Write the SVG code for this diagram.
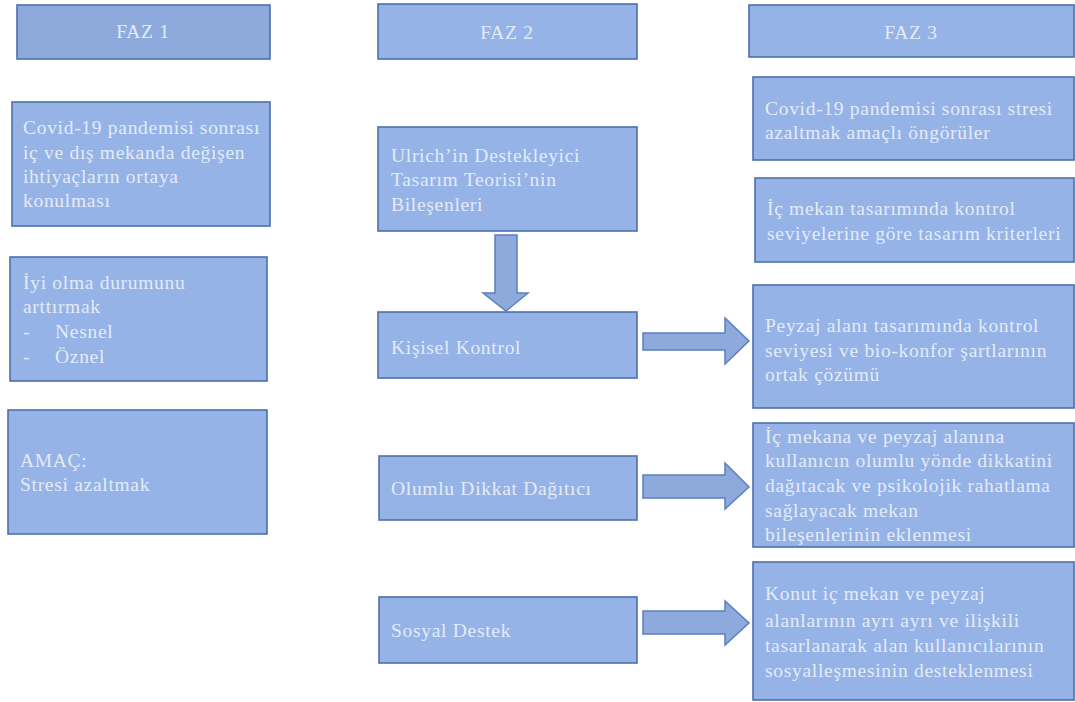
<svg xmlns="http://www.w3.org/2000/svg" width="1075" height="702" viewBox="0 0 1075 702">
<style>
.box{fill:#95b3e7;stroke:#4c70ad;stroke-width:1.6}
.hdr{fill:#8eaadc;stroke:#4c70ad;stroke-width:1.6}
.t{font-family:"Liberation Serif","Times New Roman",serif;font-size:19.5px;letter-spacing:0.7px;fill:#e4ebf8}
.c{text-anchor:middle}
.arr{fill:#8eaadc;stroke:#5b7fbf;stroke-width:1.5}
</style>
<rect width="1075" height="702" fill="#ffffff"/>
<g id="faz1"><rect class="hdr" x="17" y="5" width="253" height="54"/><text class="t c" x="143" y="38">FAZ 1</text></g>
<g id="faz2"><rect class="box" x="378" y="4" width="259" height="55"/><text class="t c" x="507" y="39">FAZ 2</text></g>
<g id="faz3"><rect class="box" x="749" y="5" width="325" height="52"/><text class="t c" x="911" y="39">FAZ 3</text></g>

<g id="l1"><rect class="box" x="12" y="102" width="258" height="124"/>
<text class="t" x="23" y="134">Covid-19 pandemisi sonrası</text>
<text class="t" x="23" y="159">iç ve dış mekanda değişen</text>
<text class="t" x="23" y="183">ihtiyaçların ortaya</text>
<text class="t" x="23" y="207">konulması</text></g>
<g id="l2"><rect class="box" x="10" y="257" width="257" height="124"/>
<text class="t" x="23" y="289">İyi olma durumunu</text>
<text class="t" x="23" y="313">arttırmak</text>
<text class="t" x="23" y="338">-</text><text class="t" x="55" y="338">Nesnel</text>
<text class="t" x="23" y="363">-</text><text class="t" x="55" y="363">Öznel</text></g>
<g id="l3"><rect class="box" x="8" y="410" width="259" height="124"/>
<text class="t" x="20" y="467">AMAÇ:</text>
<text class="t" x="20" y="491">Stresi azaltmak</text></g>

<g id="m1"><rect class="box" x="378" y="127" width="259" height="104"/>
<text class="t" x="391" y="162">Ulrich’in Destekleyici</text>
<text class="t" x="391" y="186">Tasarım Teorisi’nin</text>
<text class="t" x="391" y="211">Bileşenleri</text></g>
<g id="m2"><rect class="box" x="378" y="312" width="259" height="66"/>
<text class="t" x="391" y="354">Kişisel Kontrol</text></g>
<g id="m3"><rect class="box" x="379" y="456" width="258" height="64"/>
<text class="t" x="391" y="495">Olumlu Dikkat Dağıtıcı</text></g>
<g id="m4"><rect class="box" x="379" y="597" width="258" height="66"/>
<text class="t" x="391" y="637">Sosyal Destek</text></g>

<g id="r1"><rect class="box" x="753" y="77" width="321" height="83"/>
<text class="t" x="765" y="115">Covid-19 pandemisi sonrası stresi</text>
<text class="t" x="765" y="139">azaltmak amaçlı öngörüler</text></g>
<g id="r2"><rect class="box" x="755" y="178" width="319" height="84"/>
<text class="t" x="767" y="215">İç mekan tasarımında kontrol</text>
<text class="t" x="767" y="240">seviyelerine göre tasarım kriterleri</text></g>
<g id="r3"><rect class="box" x="753" y="285" width="321" height="123"/>
<text class="t" x="765" y="332">Peyzaj alanı tasarımında kontrol</text>
<text class="t" x="765" y="357">seviyesi ve bio-konfor şartlarının</text>
<text class="t" x="765" y="381">ortak çözümü</text></g>
<g id="r4"><rect class="box" x="753" y="423" width="321" height="124"/>
<text class="t" x="765" y="443">İç mekana ve peyzaj alanına</text>
<text class="t" x="765" y="467">kullanıcın olumlu yönde dikkatini</text>
<text class="t" x="765" y="492">dağıtacak ve psikolojik rahatlama</text>
<text class="t" x="765" y="517">sağlayacak mekan</text>
<text class="t" x="765" y="541">bileşenlerinin eklenmesi</text></g>
<g id="r5"><rect class="box" x="753" y="562" width="321" height="138"/>
<text class="t" x="765" y="600">Konut iç mekan ve peyzaj</text>
<text class="t" x="765" y="627">alanlarının ayrı ayrı ve ilişkili</text>
<text class="t" x="765" y="652">tasarlanarak alan kullanıcılarının</text>
<text class="t" x="765" y="677">sosyalleşmesinin desteklenmesi</text></g>

<g id="connectors">
<polygon class="arr" points="495,235 517,235 517,293 528,293 506,311 483,293 495,293"/>
<polygon class="arr" points="643,333 725,333 725,318 749,341 725,364 725,350 643,350"/>
<polygon class="arr" points="643,475 725,475 725,463 749,487 725,509 725,498 643,498"/>
<polygon class="arr" points="643,611 725,611 725,601 749,623 725,645 725,634 643,634"/>
</g>
</svg>
